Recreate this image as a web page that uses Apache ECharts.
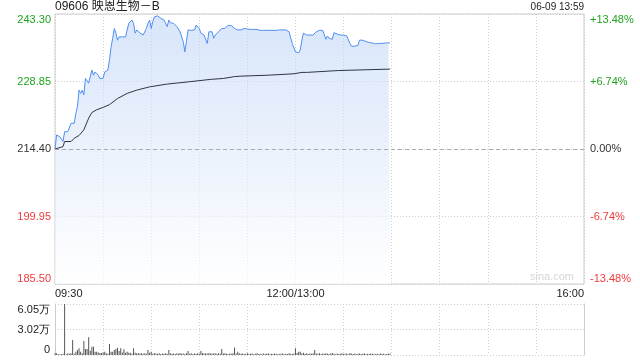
<!DOCTYPE html>
<html><head><meta charset="utf-8">
<script src="https://cdn.jsdelivr.net/npm/echarts@6/dist/echarts.min.js"></script>
<style>html,body{margin:0;padding:0;background:#fff}#c{width:640px;height:360px}</style>
</head><body><div id="c"></div>
<script>
const titleText = '09606 映恩生物－B';
const stampText = '06-09 13:59';
const watermark = 'sina.com';
const prevClose = 214.40;
const priceTicks = [185.50, 199.95, 214.40, 228.85, 243.30];
const pctTicks = [-13.48, -6.74, 0, 6.74, 13.48];
const pctLabels = ['-13.48%', '-6.74%', '0.00%', '+6.74%', '+13.48%'];
const timeTicks = [0, 150, 330];
const timeLabels = ['09:30', '12:00/13:00', '16:00'];
const volTicks = [0, 30250, 60500];
const volLabels = ['0', '3.02万', '6.05万'];

// minute-by-minute price (index = trading minute from 09:30, 13:00 = 150)
const price = [
  214.4,217.4,217.0,217.0,216.7,216.0,218.1,217.8,218.1,218.5,
  219.9,219.5,219.9,222.0,223.5,227.0,226.3,227.0,226.0,229.5,
  229.9,228.5,228.9,231.3,230.2,230.9,230.5,230.2,229.5,229.2,
  229.5,230.9,230.9,231.3,233.5,236.3,238.1,240.2,239.2,237.7,
  238.4,238.1,238.4,238.1,238.4,238.8,241.3,241.7,242.0,241.3,
  239.2,239.9,239.5,
  239.2,239.3,238.8,238.4,240.2,241.3,242.0,240.2,241.7,242.7,
  242.9,242.9,242.7,242.4,242.4,242.0,242.0,240.6,242.0,241.4,
  241.4,241.3,240.9,240.6,240.2,239.5,239.2,237.4,235.2,237.4,
  239.9,239.9,239.8,239.9,239.9,240.9,241.3,240.2,239.2,239.1,
  238.8,238.4,237.0,239.5,239.9,239.5,238.1,238.8,238.8,239.5,
  239.9,240.2,
  239.9,240.2,240.6,240.9,240.9,240.8,240.5,240.2,239.9,239.9,
  239.9,239.9,239.9,240.2,240.1,240.1,240.1,240.0,240.0,240.0,
  240.0,240.0,240.0,239.8,239.8,239.8,239.8,239.8,239.6,239.8,
  239.8,239.8,239.8,239.8,239.9,239.9,239.5,239.9,239.9,239.9,
  239.9,239.5,239.5,
  237.0,236.8,235.2,235.0,235.0,235.6,237.7,239.2,239.1,
  238.8,238.8,238.8,238.8,238.8,238.6,239.5,239.8,239.8,239.8,
  239.8,239.5,237.9,238.6,238.1,238.3,237.9,239.3,239.5,239.0,
  238.8,238.8,238.8,238.8,238.8,238.6,238.6,237.0,236.4,236.4,
  236.4,236.4,236.6,237.7,237.7,237.7,237.5,237.4,237.3,237.2,
  237.1,237.1,237.0,236.9,236.9,237.0,237.1,237.0,237.0,237.1,
  237.2,237.1,237.1
];

const avgMinutes = [0,5,6,10,12,15,18,21,23,26,30,34,39,45,51,59,70,84,97,105,112,116,133,149,154,157,177,209];
const avgValues = [214.4,214.9,216.0,216.0,216.7,217.3,218.5,221.0,222.2,222.8,223.3,223.9,225.2,226.3,227.0,227.7,228.3,228.8,229.3,229.5,229.9,230.0,230.2,230.5,230.8,230.8,231.2,231.5];

const volume = [
  2000,2000,1000,1000,800,1500,60500,1000,2000,1500,
  2000,17800,1500,4000,6000,7900,4000,2000,16600,7100,
  7100,21000,5000,9900,9900,4000,4000,3000,2500,2500,
  3000,4000,2000,1500,13000,4000,4000,6000,7100,8700,
  4800,8000,3000,6800,2800,4000,2800,2800,1500,7900,
  2800,2000,2000,1800,2000,1500,2000,1500,6000,2800,
  4000,1500,2000,1800,1500,2000,1200,1800,1500,2200,
  1500,6000,2000,1500,1800,1200,2000,1500,2400,1500,
  1800,1200,2000,4800,1500,2000,1200,1800,1500,2000,
  1500,4800,2400,1800,2000,1500,2400,1800,1500,2000,
  1800,1500,2000,1500,7100,1800,2000,1500,1200,1800,
  1500,2000,9000,1800,4000,2000,1500,1800,1200,1500,
  2000,1200,1500,1800,1000,1500,2000,1200,1500,1000,
  1800,1200,1500,2000,1000,1500,1200,1800,1500,1000,
  1200,1500,1800,1000,1500,1200,2000,1500,1200,1800,
  7900,2400,4000,4000,1800,2800,1500,2000,1200,1800,
  1500,2000,6000,1800,1500,2000,1200,1800,1500,2000,
  1500,1200,1800,2400,1500,1000,1800,1200,1500,2000,
  1200,1500,1800,1000,2400,1500,1200,1800,1000,1500,
  1800,1200,1500,2000,1000,1500,1200,1800,1500,1000,
  1200,1500,1000,1800,1200,1500,1000,1200,1500,1800
];

const GREEN = '#1fa31f', RED = '#f03a3a', DARK = '#333';
const FONT = '"Liberation Sans", Arial, sans-serif';
const TITLE_FONT = '"Liberation Sans", "Noto Sans CJK SC", sans-serif';
const dotted = { color: '#cfcfcf', type: [1, 2], width: 1 };

const chart = echarts.init(document.getElementById('c'), null, { renderer: 'canvas' });
chart.setOption({
  animation: false,
  textStyle: { fontFamily: FONT },
  title: [
    { text: titleText, left: 55, top: 1, padding: 0, textStyle: { fontSize: 12, fontWeight: 'normal', color: '#222', fontFamily: TITLE_FONT } },
    { text: stampText, right: 56, top: 2, padding: 0, textStyle: { fontSize: 10, fontWeight: 'normal', color: '#222', fontFamily: FONT } }
  ],
  graphic: [{ type: 'text', right: 66, top: 271, style: { text: watermark, fill: '#d6d6d6', font: '11px ' + FONT } }],
  grid: [
    { left: 55, right: 56, top: 14, height: 270, show: true, borderColor: '#cccccc', borderWidth: 1 },
    { left: 55, right: 56, top: 304, height: 51, show: false }
  ],
  xAxis: [
    { type: 'value', gridIndex: 0, min: 0, max: 330, interval: 30,
      axisLine: { show: false }, axisTick: { show: false },
      splitLine: { show: true, lineStyle: dotted },
      axisLabel: { customValues: timeTicks, margin: 4, fontSize: 11, color: '#222', fontFamily: FONT,
        alignMinLabel: 'left', alignMaxLabel: 'right',
        formatter: v => timeLabels[timeTicks.indexOf(v)] } },
    { type: 'value', gridIndex: 1, min: 0, max: 330, interval: 30,
      axisLine: { show: false }, axisTick: { show: false }, axisLabel: { show: false },
      splitLine: { show: true, lineStyle: dotted } }
  ],
  yAxis: [
    { type: 'value', gridIndex: 0, min: priceTicks[0], max: priceTicks[priceTicks.length - 1],
      axisLine: { show: false }, axisTick: { show: false, customValues: priceTicks },
      splitLine: { show: true, lineStyle: dotted },
      axisLabel: { customValues: priceTicks, margin: 4, fontSize: 11, fontFamily: FONT,
        verticalAlignMinLabel: 'bottom', verticalAlignMaxLabel: 'top',
        formatter: v => Number(v).toFixed(2),
        color: v => { v = Number(v); return v > prevClose + 0.001 ? GREEN : (v < prevClose - 0.001 ? RED : DARK); } } },
    { type: 'value', gridIndex: 0, position: 'right', min: pctTicks[0], max: pctTicks[pctTicks.length - 1],
      axisLine: { show: false }, axisTick: { show: false, customValues: pctTicks }, splitLine: { show: false },
      axisLabel: { customValues: pctTicks, margin: 6, fontSize: 11, fontFamily: FONT,
        verticalAlignMinLabel: 'bottom', verticalAlignMaxLabel: 'top',
        formatter: v => pctLabels[pctTicks.indexOf(Number(v))],
        color: v => { v = Number(v); return v > 0.001 ? GREEN : (v < -0.001 ? RED : DARK); } } },
    { type: 'value', gridIndex: 1, min: 0, max: 60500, interval: 30250,
      axisLine: { show: true, lineStyle: { color: '#cccccc' } }, axisTick: { show: false },
      splitLine: { show: true, lineStyle: dotted },
      axisLabel: { margin: 5, fontSize: 11, color: '#222', fontFamily: FONT,
        verticalAlignMinLabel: 'bottom', verticalAlignMaxLabel: 'top',
        formatter: v => volLabels[volTicks.indexOf(Number(v))] } },
    { type: 'value', gridIndex: 1, position: 'right', min: 0, max: 60500, interval: 30250,
      axisLine: { show: true, lineStyle: { color: '#cccccc' } }, axisTick: { show: false },
      axisLabel: { show: false }, splitLine: { show: false } }
  ],
  series: [
    { type: 'line', xAxisIndex: 0, yAxisIndex: 0, symbol: 'none',
      data: price.map((v, i) => [i, v]),
      lineStyle: { color: '#4f8ef2', width: 1 },
      areaStyle: { origin: 'start', color: new echarts.graphic.LinearGradient(0, 0, 0, 1, [
        { offset: 0, color: 'rgba(190,212,246,0.85)' },
        { offset: 1, color: 'rgba(255,255,255,0.9)' }]) },
      markLine: { silent: true, symbol: 'none', label: { show: false },
        lineStyle: { color: '#aaaaaa', type: [4, 3], width: 1 },
        data: [{ yAxis: prevClose }] },
      z: 3 },
    { type: 'line', xAxisIndex: 0, yAxisIndex: 0, symbol: 'none',
      data: avgMinutes.map((m, i) => [m, avgValues[i]]),
      lineStyle: { color: '#2e3442', width: 1 }, z: 4 },
    { type: 'bar', xAxisIndex: 1, yAxisIndex: 2, barWidth: 1,
      data: volume.map((v, i) => [i, v]),
      itemStyle: { color: '#555555' } }
  ]
});
</script></body></html>
